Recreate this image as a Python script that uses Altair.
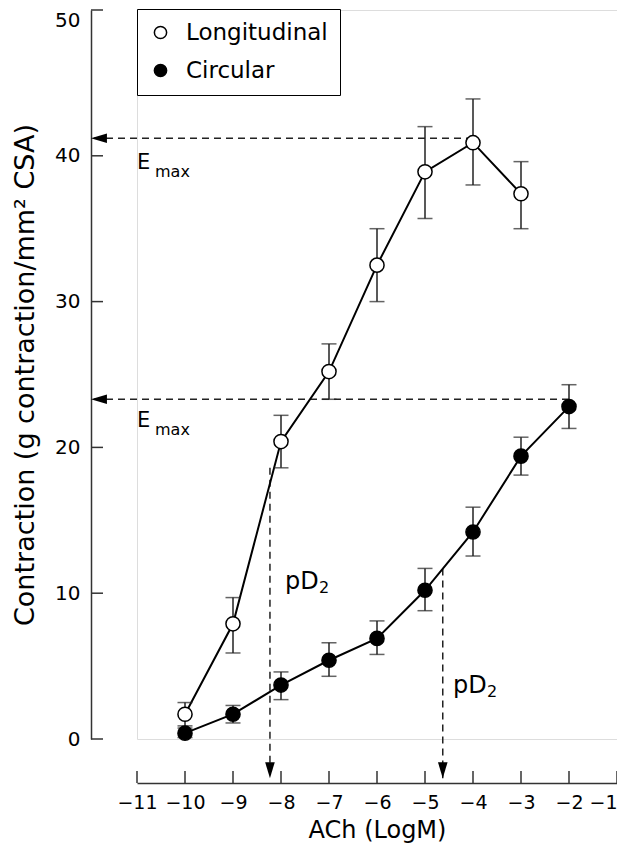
import altair as alt
import pandas as pd

# ---------------- data ----------------
long_x = [-10, -9, -8, -7, -6, -5, -4, -3]
long_mean = [1.7, 7.9, 20.4, 25.2, 32.5, 38.9, 40.9, 37.4]
long_upper = [2.5, 9.7, 22.2, 27.1, 35.0, 42.0, 43.9, 39.6]
long_lower = [0.9, 5.9, 18.6, 23.3, 30.0, 35.7, 38.0, 35.0]

circ_x = [-10, -9, -8, -7, -6, -5, -4, -3, -2]
circ_mean = [0.4, 1.7, 3.7, 5.4, 6.9, 10.2, 14.2, 19.4, 22.8]
circ_upper = [0.75, 2.3, 4.6, 6.6, 8.1, 11.7, 15.9, 20.7, 24.3]
circ_lower = [0.1, 1.1, 2.7, 4.3, 5.8, 8.8, 12.55, 18.1, 21.3]

series_names = ["Longitudinal", "Circular"]
x_ticks = [-11, -10, -9, -8, -7, -6, -5, -4, -3, -2, -1]
y_ticks = [0, 10, 20, 30, 40, 50]

# annotation values (data units)
emax_y = [41.2, 23.3]
emax_from_x = [-4, -2]
yaxis_x = -11.96          # where the detached y axis sits
pd2_x = [-8.23, -4.63]
pd2_from_y = [18.6, 11.7]
xaxis_y = -2.7            # just above the detached x axis

text_x = [-11.0, -10.625, -11.0, -10.625, -7.917, -7.21, -4.417, -3.71]
text_y = [39.5, 38.55, 21.8, 20.85, 10.3, 10.0, 3.15, 2.88]
text_s = ["E", "max", "E", "max", "pD", "2", "pD", "2"]
text_fs = [21, 16, 21, 16, 24, 16, 24, 16]
text_base = ["middle", "alphabetic", "middle", "alphabetic",
             "alphabetic", "alphabetic", "alphabetic", "alphabetic"]

# ---------------- tables ----------------
df = pd.concat([
    pd.DataFrame({"x": long_x, "y": long_mean, "lo": long_lower, "hi": long_upper,
                  "series": series_names[0]}),
    pd.DataFrame({"x": circ_x, "y": circ_mean, "lo": circ_lower, "hi": circ_upper,
                  "series": series_names[1]}),
], ignore_index=True)

hdash = pd.DataFrame({"x": emax_from_x, "x2": [yaxis_x] * 2, "y": emax_y})
vdash = pd.DataFrame({"x": pd2_x, "y": pd2_from_y, "y2": [xaxis_y] * 2})
larrow = pd.DataFrame({"x": [yaxis_x] * 2, "y": emax_y})
darrow = pd.DataFrame({"x": pd2_x, "y": [xaxis_y] * 2})
texts = pd.DataFrame({"x": text_x, "y": text_y, "t": text_s, "fs": text_fs})
yt = pd.DataFrame({"v": y_ticks})
xt = pd.DataFrame({"v": x_ticks})

FONT = "DejaVu Sans"
xsc = alt.Scale(domain=[-11, -1], nice=False, zero=False)
ysc = alt.Scale(domain=[0, 50], nice=False, zero=False)

X = alt.X("x:Q", scale=xsc, axis=alt.Axis(
    title="ACh (LogM)", values=x_ticks, ticks=False, grid=False, offset=44,
    labelFontSize=19, labelFont=FONT, labelPadding=10, labelColor="black",
    labelOverlap=False, labelFlush=False,
    labelAlign={"condition": {"test": "datum.value == -1", "value": "right"},
                "value": "center"},
    titleFontSize=24, titleFont=FONT, titleFontWeight="normal", titlePadding=6,
    titleColor="black", domainColor="#333", domainWidth=1.5))
Y = alt.Y("y:Q", scale=ysc, axis=alt.Axis(
    title="Contraction (g contraction/mm² CSA)", values=y_ticks, ticks=False,
    grid=False, offset=46, labelFontSize=20, labelFont=FONT, labelPadding=11,
    labelColor="black", labelOverlap=False, labelFlush=False,
    labelBaseline={"condition": {"test": "datum.value == 50", "value": "top"},
                   "value": "middle"},
    titleFontSize=27, titleFont=FONT, titleFontWeight="normal",
    titlePadding=15, titleColor="black", domainColor="#333",
    domainWidth=1.5))

base = alt.Chart(df)

lines = base.mark_line(color="black", strokeWidth=2).encode(
    x=X, y=Y, detail="series:N")

err = base.mark_rule(color="#222", strokeWidth=1.5).encode(
    x="x:Q", y="lo:Q", y2="hi:Q")
cap_hi = base.mark_tick(color="#222", thickness=1.5, size=15, orient="horizontal").encode(
    x="x:Q", y="hi:Q")
cap_lo = base.mark_tick(color="#222", thickness=1.5, size=15, orient="horizontal").encode(
    x="x:Q", y="lo:Q")

points = base.mark_point(filled=True, shape="circle", size=200, stroke="black",
                         strokeWidth=1.5, opacity=1).encode(
    x="x:Q", y="y:Q",
    fill=alt.Fill("series:N",
                  scale=alt.Scale(domain=series_names, range=["white", "black"]),
                  legend=alt.Legend(title=None, orient="none", legendX=0, legendY=-1,
                                    strokeColor="black", fillColor="white", padding=12,
                                    symbolSize=150, symbolStrokeColor="black",
                                    symbolStrokeWidth=1.5, symbolType="circle",
                                    labelFontSize=23, labelFont=FONT, labelColor="black",
                                    labelOffset=14, rowPadding=14, cornerRadius=0)))

hd = alt.Chart(hdash).mark_rule(color="#222", strokeWidth=1.5, strokeDash=[7, 5]).encode(
    x="x:Q", x2="x2:Q", y="y:Q")
vd = alt.Chart(vdash).mark_rule(color="#222", strokeWidth=1.5, strokeDash=[7, 5]).encode(
    x="x:Q", y="y:Q", y2="y2:Q")
la = alt.Chart(larrow).mark_point(shape="M0,0 L2,-0.6 L2,0.6 Z", size=256, filled=True,
                                  color="black", opacity=1).encode(x="x:Q", y="y:Q")
da = alt.Chart(darrow).mark_point(shape="M0,0 L-0.6,-2 L0.6,-2 Z", size=256, filled=True,
                                  color="black", opacity=1).encode(x="x:Q", y="y:Q")

txt_mid = alt.Chart(texts[[b == "middle" for b in text_base]]).mark_text(
    align="left", baseline="middle", font=FONT, color="black").encode(
    x="x:Q", y="y:Q", text="t:N", size=alt.Size("fs:Q", scale=None))
txt_alpha = alt.Chart(texts[[b == "alphabetic" for b in text_base]]).mark_text(
    align="left", baseline="alphabetic", font=FONT, color="black").encode(
    x="x:Q", y="y:Q", text="t:N", size=alt.Size("fs:Q", scale=None))

ytick = alt.Chart(yt).mark_rule(color="#333", strokeWidth=1.5).encode(
    y="v:Q", x=alt.value(-46), x2=alt.value(-34))
xtick = alt.Chart(xt).mark_rule(color="#333", strokeWidth=1.5).encode(
    x="v:Q", y=alt.value(773), y2=alt.value(761))

chart = alt.layer(
    ytick, xtick, hd, vd, la, da, lines, err, cap_hi, cap_lo, points, txt_mid, txt_alpha
).properties(
    width=480, height=729,
    autosize=alt.AutoSizeParams(type="none"),
    padding={"left": 129, "top": 2, "right": 0, "bottom": 106},
).configure_view(stroke=None).configure(background="white")

chart.save("out.html", embed_options={"renderer": "svg", "actions": False})
